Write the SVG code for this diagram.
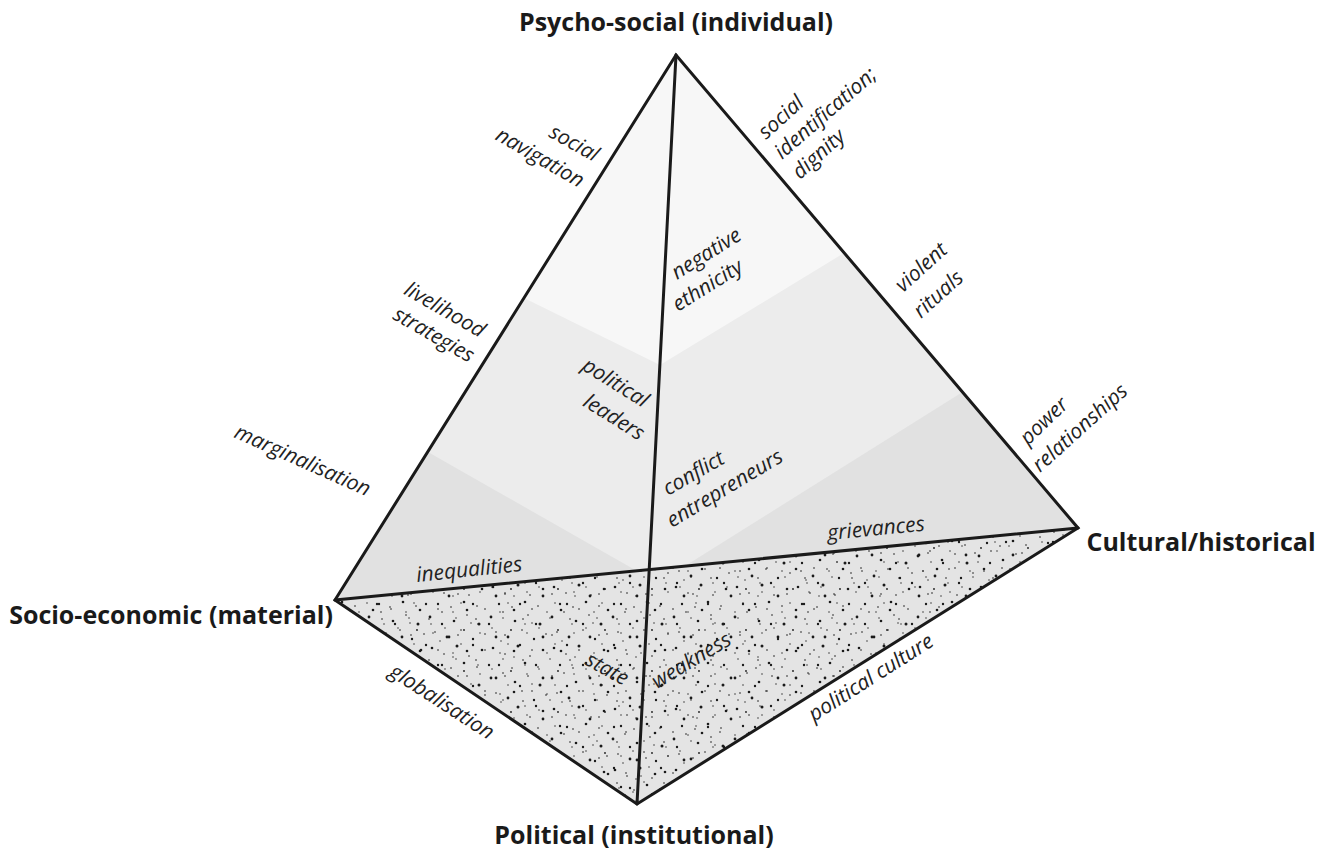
<svg xmlns="http://www.w3.org/2000/svg" width="1326" height="850" viewBox="0 0 1326 850">
<style>
.lab{font-family:"Open Sans","Noto Sans",sans-serif;font-style:italic;font-size:21px;fill:#222}
.end{text-anchor:end}
.big{font-family:"Open Sans","Noto Sans",sans-serif;font-weight:700;font-size:25px;fill:#1a1a1a;text-anchor:middle}
.edge{fill:none;stroke:#1a1a1a;stroke-width:3;stroke-linejoin:miter;stroke-linecap:round}
</style>
<defs>
<pattern id="dotsA" width="61" height="61" patternUnits="userSpaceOnUse">
<g fill="#1a1a1a">
<circle cx="3" cy="7" r="1.4"/><circle cx="15" cy="2" r="0.8"/><circle cx="27" cy="11" r="1.3"/><circle cx="40" cy="5" r="0.8"/><circle cx="52" cy="14" r="1.5"/><circle cx="8" cy="22" r="0.8"/><circle cx="20" cy="27" r="1.4"/><circle cx="34" cy="20" r="0.8"/><circle cx="46" cy="29" r="1.2"/><circle cx="58" cy="24" r="0.8"/><circle cx="5" cy="38" r="1.3"/><circle cx="17" cy="44" r="0.8"/><circle cx="30" cy="36" r="1.5"/><circle cx="42" cy="46" r="0.8"/><circle cx="55" cy="40" r="1.3"/><circle cx="11" cy="55" r="1.2"/><circle cx="24" cy="58" r="0.8"/><circle cx="37" cy="53" r="1.3"/><circle cx="50" cy="57" r="0.8"/><circle cx="26" cy="47" r="0.7"/><circle cx="44" cy="13" r="0.7"/><circle cx="13" cy="31" r="0.7"/>
</g>
</pattern>
<pattern id="dotsB" width="47" height="41" patternUnits="userSpaceOnUse">
<g fill="#1a1a1a">
<circle cx="6" cy="4" r="0.8"/><circle cx="19" cy="9" r="1.2"/><circle cx="33" cy="3" r="0.7"/><circle cx="41" cy="15" r="0.9"/><circle cx="10" cy="18" r="0.7"/><circle cx="26" cy="22" r="1.4"/><circle cx="38" cy="29" r="0.7"/><circle cx="3" cy="30" r="1.2"/><circle cx="15" cy="35" r="0.8"/><circle cx="30" cy="38" r="0.7"/><circle cx="44" cy="36" r="1.3"/><circle cx="22" cy="13" r="0.7"/><circle cx="8" cy="9" r="0.7"/><circle cx="35" cy="20" r="0.8"/>
</g>
</pattern>
</defs>
<rect width="1326" height="850" fill="#ffffff"/>

<g id="faces">
<polygon points="676,55 335,600 650,569" fill="#ececec"/>
<polygon points="676,55 524,298 660,365" fill="#f7f7f7"/>
<polygon points="335,600 428,452 637,571" fill="#e1e1e1"/>
<polygon points="676,55 650,569 1078,528" fill="#ececec"/>
<polygon points="676,55 660,365 844,253" fill="#f7f7f7"/>
<polygon points="961,393 1078,528 685,566" fill="#e1e1e1"/>
<polygon points="335,600 1078,528 637,804" fill="#e4e4e4"/>
<polygon points="335,600 1078,528 637,804" fill="url(#dotsA)"/>
<polygon points="335,600 1078,528 637,804" fill="url(#dotsB)"/>
</g>

<g id="edges">
<polygon class="edge" points="676,55 335,600 637,804 1078,528"/>
<line class="edge" x1="335" y1="600" x2="1078" y2="528"/>
<line class="edge" x1="676" y1="55" x2="637" y2="804"/>
</g>

<g id="vertex-labels">
<text class="big" x="676" y="31">Psycho-social (individual)</text>
<text class="big" x="171" y="624">Socio-economic (material)</text>
<text class="big" x="1201" y="551">Cultural/historical</text>
<text class="big" x="634" y="844">Political (institutional)</text>
</g>

<g id="edge-labels">
<text class="lab end" transform="translate(594,162) rotate(29)">social</text>
<text class="lab end" transform="translate(579,188) rotate(30)">navigation</text>
<text class="lab end" transform="translate(480,338) rotate(30)">livelihood</text>
<text class="lab end" transform="translate(469,363) rotate(30)">strategies</text>
<text class="lab" transform="translate(233,437) rotate(24)">marginalisation</text>
<text class="lab" transform="translate(417,582) rotate(-6)">inequalities</text>
<text class="lab end" transform="translate(643,408) rotate(32)">political</text>
<text class="lab end" transform="translate(639,441) rotate(32)">leaders</text>
<text class="lab" transform="translate(677,280) rotate(-32)">negative</text>
<text class="lab" transform="translate(678,312) rotate(-32)">ethnicity</text>
<text class="lab" transform="translate(668,496) rotate(-30)">conflict</text>
<text class="lab" transform="translate(672,528) rotate(-31)">entrepreneurs</text>
<text class="lab" transform="translate(766,140) rotate(-42)">social</text>
<text class="lab" transform="translate(782,160) rotate(-41)">identification;</text>
<text class="lab" transform="translate(800,180) rotate(-42)">dignity</text>
<text class="lab" transform="translate(903,293) rotate(-42)">violent</text>
<text class="lab" transform="translate(921,319) rotate(-42)">rituals</text>
<text class="lab" transform="translate(1028,446) rotate(-44)">power</text>
<text class="lab" transform="translate(1040,473) rotate(-42)">relationships</text>
<text class="lab" transform="translate(828,540) rotate(-5.5)">grievances</text>
<text class="lab" transform="translate(388,675) rotate(33)">globalisation</text>
<text class="lab" transform="translate(584,664) rotate(29)">state</text>
<text class="lab" transform="translate(657,689) rotate(-31)">weakness</text>
<text class="lab" transform="translate(814,722) rotate(-32.5)">political culture</text>
</g>
</svg>
